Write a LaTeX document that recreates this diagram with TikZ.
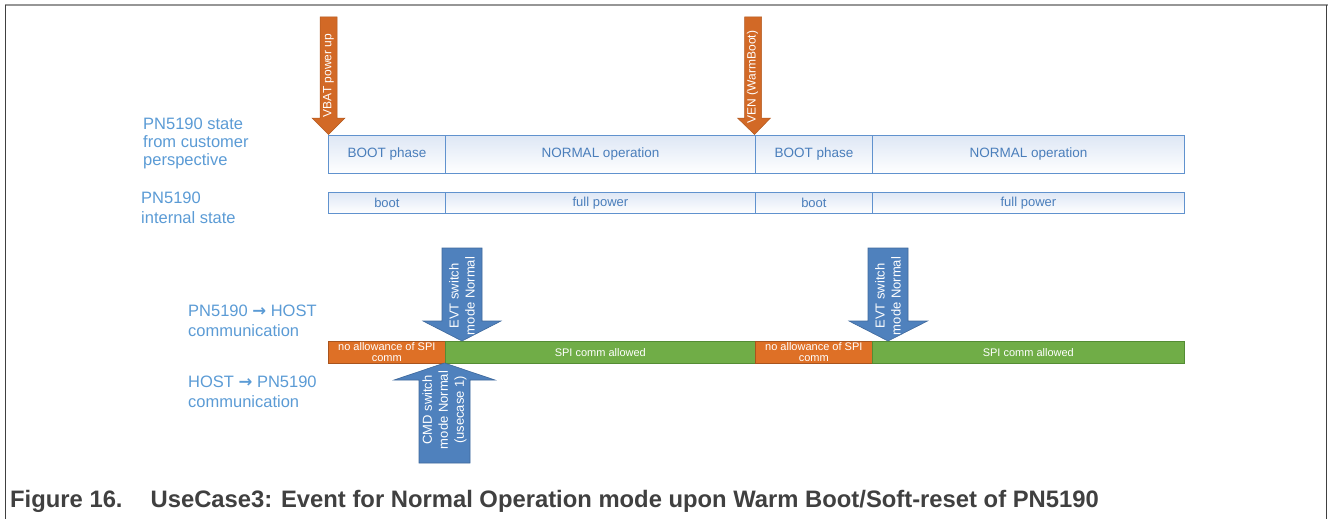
\documentclass[tikz,border=0pt]{standalone}
\usepackage{fontspec}
\setmainfont{Liberation Sans}
\newfontfamily\arrowfont{DejaVu Sans}
\definecolor{lblue}{RGB}{91,155,213}
\definecolor{segtext}{RGB}{74,126,187}
\definecolor{segborder}{RGB}{96,146,206}
\definecolor{segtop}{RGB}{222,231,245}
\definecolor{orangeA}{RGB}{210,105,38}
\definecolor{orangeB}{RGB}{222,112,38}
\definecolor{greenA}{RGB}{112,173,71}
\definecolor{greenB}{RGB}{84,140,52}
\definecolor{blueA}{RGB}{79,129,189}
\definecolor{blueB}{RGB}{58,98,146}
\definecolor{capgray}{RGB}{64,64,64}
\definecolor{framegray}{RGB}{150,150,150}
\definecolor{framedark}{RGB}{64,64,64}
\begin{document}
\begin{tikzpicture}[x=1pt,y=-1pt,
  seg/.style={draw=segborder, line width=0.8pt, top color=segtop, bottom color=white,
    text=segtext, anchor=north west, inner sep=0pt, minimum height=38pt,
    font=\fontsize{13.5}{15}\selectfont},
  iseg/.style={seg, minimum height=21pt, font=\fontsize{13}{15}\selectfont},
  orseg/.style={draw=orangeA!80!black, line width=0.6pt, fill=orangeB, text=white,
    anchor=north west, inner sep=0pt, minimum height=22pt, align=center,
    font=\fontsize{11}{11.5}\selectfont},
  grseg/.style={orseg, draw=greenB, fill=greenA},
  orarrow/.style={fill=orangeA, draw=orangeA!85!black, line width=0.5pt},
  blarrow/.style={fill=blueA, draw=blueB!80!blueA, line width=0.6pt},
  atext/.style={text=white, rotate=90, inner sep=0pt, align=center,
    font=\fontsize{12}{14}\selectfont},
  btext/.style={atext, font=\fontsize{13}{16}\selectfont},
  lab/.style={text=lblue, anchor=base west, inner sep=0pt}]
\useasboundingbox (0,0) rectangle (1328,519);

% frame
\draw[framegray, line width=1.5pt] (5,5) -- (1328,5);
\draw[framedark, line width=1.5pt] (5.5,5) -- (5.5,519);
\draw[framedark, line width=1.5pt] (1326.3,5) -- (1326.3,519);

% state from customer perspective
\node[seg, minimum width=117pt] (s1) at (328,135) {BOOT phase};
\node[seg, minimum width=310pt] (s2) at (445,135) {NORMAL operation};
\node[seg, minimum width=117pt] (s3) at (755,135) {BOOT phase};
\node[seg, minimum width=312pt] (s4) at (872,135) {NORMAL operation};

% internal state
\node[iseg, minimum width=117pt] (i1) at (328,192) {boot};
\node[iseg, minimum width=310pt] (i2) at (445,192) {full power};
\node[iseg, minimum width=117pt] (i3) at (755,192) {boot};
\node[iseg, minimum width=312pt] (i4) at (872,192) {full power};

% SPI communication bar
\node[orseg, minimum width=117pt] (c1) at (328,341) {no allowance of SPI\\comm};
\node[grseg, minimum width=310pt] (c2) at (445,341) {SPI comm allowed};
\node[orseg, minimum width=117pt] (c3) at (755,341) {no allowance of SPI\\comm};
\node[grseg, minimum width=312pt] (c4) at (872,341) {SPI comm allowed};

% VBAT power up arrow
\filldraw[orarrow] (320,17) -- (337,17) -- (337,118) -- (345,118) -- (328.5,134.5)
  -- (312,118) -- (320,118) -- cycle;
\node[atext] (vbat) at (328.5,75.5) {VBAT power up};

% VEN arrow
\filldraw[orarrow] (744.5,17) -- (761.5,17) -- (761.5,118) -- (770.5,118) -- (754.5,134.5)
  -- (737.5,118) -- (744.5,118) -- cycle;
\node[atext] (ven) at (752.5,77) {VEN (WarmBoot)};

% EVT arrows
\filldraw[blarrow] (442,248) -- (482,248) -- (482,321) -- (501,321) -- (462,341)
  -- (423,321) -- (442,321) -- cycle;
\node[btext] (evt1) at (462,296) {EVT switch\\mode Normal};
\filldraw[blarrow] (868,248) -- (908,248) -- (908,321) -- (927.5,321) -- (888,341)
  -- (849,321) -- (868,321) -- cycle;
\node[btext] (evt2) at (888,296) {EVT switch\\mode Normal};

% CMD arrow
\filldraw[blarrow] (419,463) -- (470,463) -- (470,380) -- (495,380) -- (444.5,363)
  -- (394,380) -- (419,380) -- cycle;
\node[btext] (cmd) at (444.5,410) {CMD switch\\mode Normal\\(usecase 1)};

% left labels
\node[lab, font=\fontsize{16.5}{18.3}\selectfont] (l1) at (143,129.3)
  {\begin{tabular}[t]{@{}l@{}}PN5190 state\\from customer\\perspective\end{tabular}};
\node[lab, font=\fontsize{16.5}{20}\selectfont] (l2) at (141,203.3)
  {\begin{tabular}[t]{@{}l@{}}PN5190\\internal state\end{tabular}};
\node[lab, font=\fontsize{16.5}{20}\selectfont] (l3) at (188,316.7)
  {\begin{tabular}[t]{@{}l@{}}PN5190 {\arrowfont\bfseries →} HOST\\communication\end{tabular}};
\node[lab, font=\fontsize{16.5}{20}\selectfont] (l4) at (188,387.3)
  {\begin{tabular}[t]{@{}l@{}}HOST {\arrowfont\bfseries →} PN5190\\communication\end{tabular}};

% caption
\node[anchor=base west, inner sep=0pt, text=capgray, font=\bfseries\fontsize{23.8}{26}\selectfont]
  (cap) at (10,507) {Figure 16.\hspace{28pt}UseCase3: Event for Normal Operation mode upon Warm Boot/Soft-reset of PN5190};
\end{tikzpicture}
\end{document}
